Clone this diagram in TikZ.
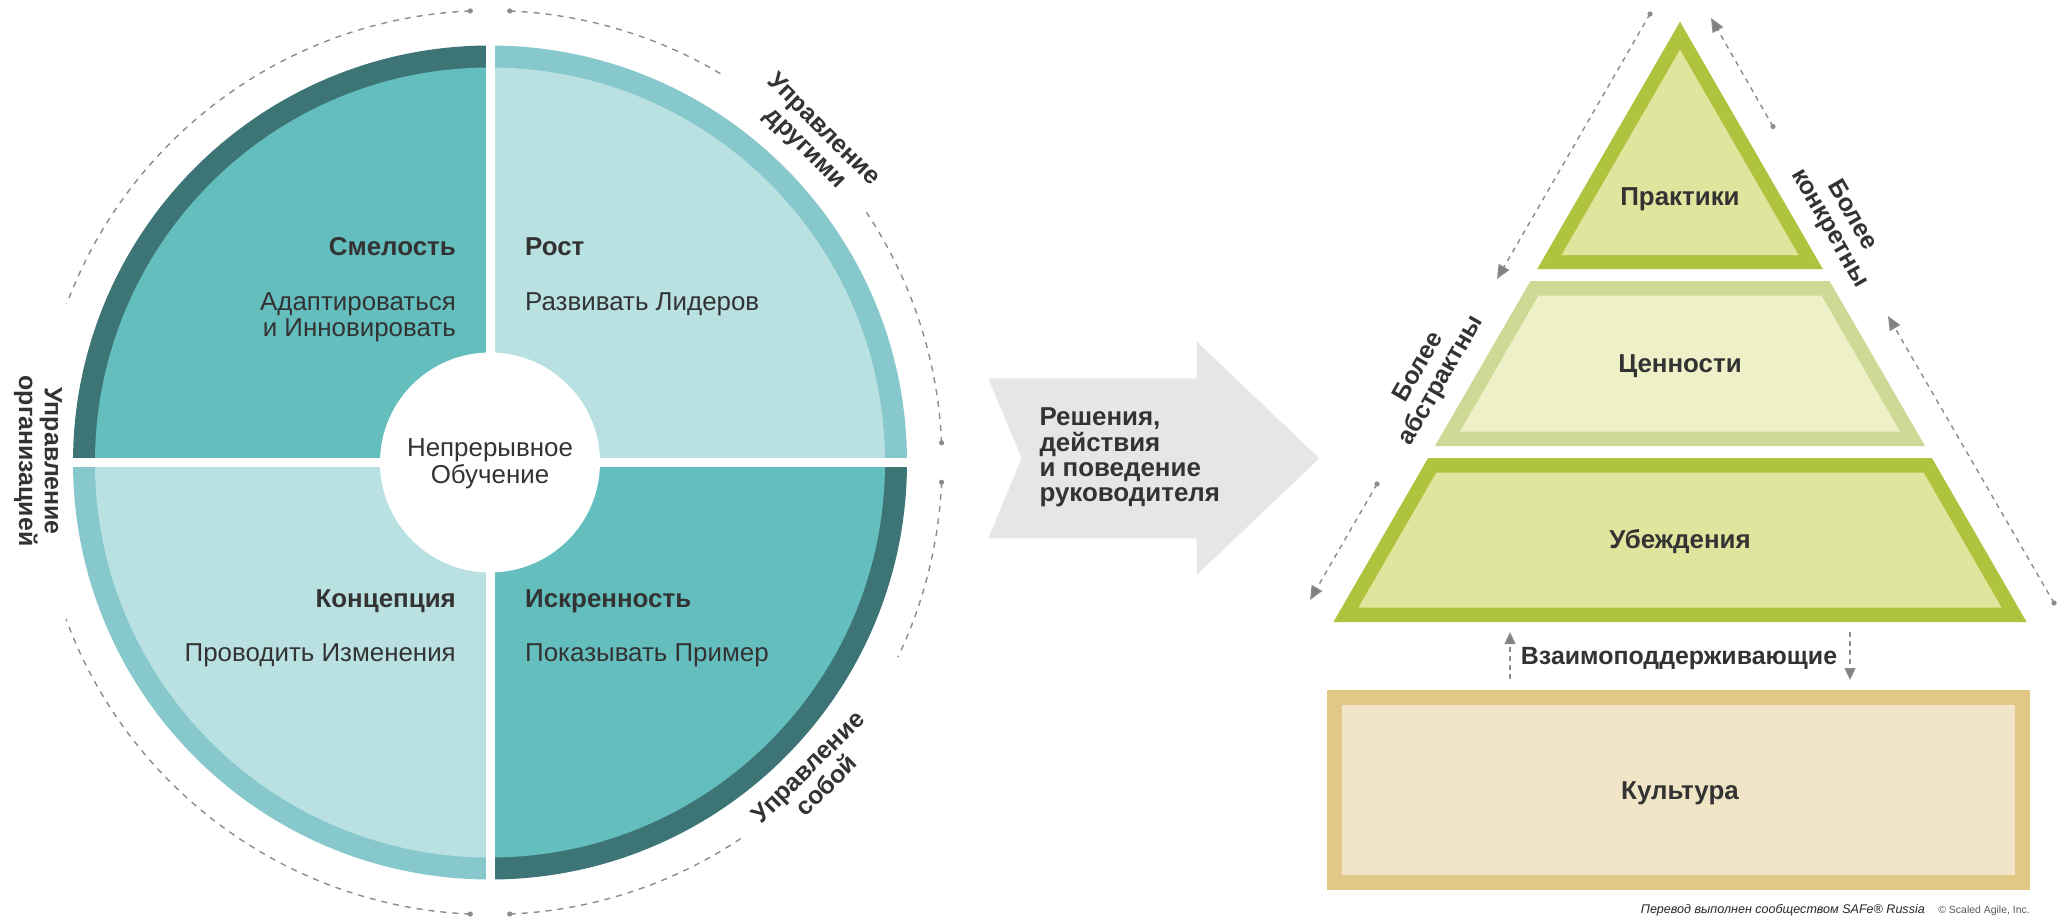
\documentclass[tikz,border=0pt]{standalone}
\usepackage{fontspec}
\setmainfont{Liberation Sans}
\usetikzlibrary{arrows.meta}
\definecolor{tdark}{HTML}{3D7577}
\definecolor{tmid}{HTML}{64BEBE}
\definecolor{tlight}{HTML}{B9E1E2}
\definecolor{tlband}{HTML}{86C8CC}
\definecolor{gborder}{HTML}{AFC33F}
\definecolor{gfill}{HTML}{E0E59E}
\definecolor{mborder}{HTML}{CED996}
\definecolor{mfill}{HTML}{EEF1C8}
\definecolor{cborder}{HTML}{E2C886}
\definecolor{cfill}{HTML}{F0E6C7}
\definecolor{arrowgray}{HTML}{E6E6E6}
\definecolor{dashgray}{HTML}{8C8C8C}
\definecolor{headgray}{HTML}{808080}
\definecolor{txt}{HTML}{333333}
\begin{document}
\begin{tikzpicture}[x=1bp,y=-1bp,
  qtitle/.style={font=\fontsize{26}{30}\selectfont\bfseries, text=txt, inner sep=0pt},
  qsub/.style={font=\fontsize{26}{30}\selectfont, text=txt, inner sep=0pt},
  outlbl/.style={font=\fontsize{25}{26}\selectfont\bfseries, text=txt, align=center, inner sep=0pt},
  pyrlbl/.style={font=\fontsize{26}{30}\selectfont\bfseries, text=txt, inner sep=0pt},
  dasharc/.style={draw=dashgray, line width=1.4bp, dash pattern=on 6bp off 6bp},
  enddot/.style={fill=dashgray},
  sidearrow/.style={draw=dashgray, line width=1.4bp, dash pattern=on 5bp off 5bp,
     -{Triangle[length=14bp,width=12bp,fill=headgray]}},
  smallarrow/.style={draw=dashgray, line width=1.4bp, dash pattern=on 5bp off 4bp,
     -{Triangle[length=12bp,width=11bp,fill=headgray]}}
]
\useasboundingbox (0,0) rectangle (2065,919);
\fill[white] (0,0) rectangle (2065,919);

% ---------------- circle ----------------
\coordinate (C) at (490,462.5);
% top-left
\fill[tdark] (C) -- ++(-90:417) arc[start angle=-90,end angle=-180,radius=417] -- cycle;
\fill[tmid]  (C) -- ++(-90:395) arc[start angle=-90,end angle=-180,radius=395] -- cycle;
% top-right
\fill[tlband] (C) -- ++(0:417) arc[start angle=0,end angle=-90,radius=417] -- cycle;
\fill[tlight] (C) -- ++(0:395) arc[start angle=0,end angle=-90,radius=395] -- cycle;
% bottom-left
\fill[tlband] (C) -- ++(90:417) arc[start angle=90,end angle=180,radius=417] -- cycle;
\fill[tlight] (C) -- ++(90:395) arc[start angle=90,end angle=180,radius=395] -- cycle;
% bottom-right
\fill[tdark] (C) -- ++(0:417) arc[start angle=0,end angle=90,radius=417] -- cycle;
\fill[tmid]  (C) -- ++(0:395) arc[start angle=0,end angle=90,radius=395] -- cycle;
% white cross and centre
\fill[white] (485.5,44) rectangle (494.5,881);
\fill[white] (71,458) rectangle (909,467);
\fill[white] (C) circle[radius=110];

% quadrant texts
\node[qtitle, anchor=base east] (smel) at (456,255) {Смелость};
\node[qsub, anchor=base east] (adap1) at (456,310) {Адаптироваться};
\node[qsub, anchor=base east] (adap2) at (456,336) {и Инновировать};
\node[qtitle, anchor=base west] (rost) at (525,255) {Рост};
\node[qsub, anchor=base west] (razv) at (525,310) {Развивать Лидеров};
\node[qtitle, anchor=base east] (konc) at (456,607) {Концепция};
\node[qsub, anchor=base east] (prov) at (456,661) {Проводить Изменения};
\node[qtitle, anchor=base west] (iskr) at (525,607) {Искренность};
\node[qsub, anchor=base west] (pokaz) at (525,661) {Показывать Пример};
\node[qsub, anchor=base] (nepr) at (490,456) {Непрерывное};
\node[qsub, anchor=base] (obuch) at (490,483.3) {Обучение};

% dashed arcs around circle
\draw[dasharc] (C) ++(-92.5:452) arc[start angle=-92.5,end angle=-159.5,radius=452];
\draw[dasharc] (C) ++(-267.5:452) arc[start angle=-267.5,end angle=-200.3,radius=452];
\draw[dasharc] (C) ++(-87.5:452) arc[start angle=-87.5,end angle=-59.2,radius=452];
\draw[dasharc] (C) ++(-2.5:452) arc[start angle=-2.5,end angle=-33.6,radius=452];
\draw[dasharc] (C) ++(2.5:452) arc[start angle=2.5,end angle=25.5,radius=452];
\draw[dasharc] (C) ++(87.5:452) arc[start angle=87.5,end angle=56.2,radius=452];
\foreach \a in {-92.5,-267.5,-87.5,-2.5,2.5,87.5}
  \fill[enddot] (C) ++(\a:452) circle[radius=2.6];

% outer labels
\node[outlbl, rotate=-90] (lblorg) at (38,461) {Управление\\организацией};
\node[outlbl, rotate=-45] (lbloth) at (814,139.5) {Управление\\другими};
\node[outlbl, rotate=45] (lblself) at (817,776) {Управление\\собой};

% ---------------- big arrow ----------------
\fill[arrowgray] (988.3,378.3) -- (1196.7,378.3) -- (1196.7,341.7) -- (1319.3,458.3)
  -- (1196.7,575) -- (1196.7,538.3) -- (988.3,538.3) -- (1021.7,458.3) -- cycle;
\node[font=\fontsize{26}{25.3}\selectfont\bfseries, text=txt, align=left, inner sep=0pt,
  anchor=west] (reshen) at (1039.3,457.5) {Решения,\\действия\\и поведение\\руководителя};

% ---------------- pyramid ----------------
% top triangle
\fill[gborder] (1680,21.7) -- (1822.8,269) -- (1537.2,269) -- cycle;
\fill[gfill] (1680,49.7) -- (1798.5,255) -- (1561.5,255) -- cycle;
% middle trapezoid
\fill[mborder] (1530.4,281) -- (1829.6,281) -- (1925,446) -- (1435,446) -- cycle;
\fill[mfill] (1538.6,295.5) -- (1821.4,295.5) -- (1899.9,431.5) -- (1460.1,431.5) -- cycle;
% bottom trapezoid
\fill[gborder] (1428.1,458) -- (1931.9,458) -- (2026.6,622) -- (1333.4,622) -- cycle;
\fill[gfill] (1436.4,472.5) -- (1923.6,472.5) -- (2001.5,607.5) -- (1358.5,607.5) -- cycle;
% culture box
\fill[cborder] (1327,690) rectangle (2030,890);
\fill[cfill] (1342,705) rectangle (2015,875);

\node[pyrlbl, anchor=base] (prakt) at (1680,205.6) {Практики};
\node[pyrlbl, anchor=base] (tsenn) at (1680,372.9) {Ценности};
\node[pyrlbl, anchor=base] (ubezh) at (1680,548.8) {Убеждения};
\node[pyrlbl, anchor=base] (kult) at (1680,799) {Культура};
\node[font=\fontsize{25}{30}\selectfont\bfseries, text=txt, inner sep=0pt, anchor=base]
  (vzaim) at (1679,664.3) {Взаимоподдерживающие};

% side dashed arrows
\coordinate (la1) at (1650,14);
\coordinate (la2) at (1497,279);
\coordinate (la3) at (1377,484);
\coordinate (la4) at (1310,600);
\coordinate (ra1) at (1773,126.5);
\coordinate (ra2) at (1711,18);
\coordinate (ra3) at (2054,603);
\coordinate (ra4) at (1888,316);
\draw[sidearrow] (la1) -- (la2);
\draw[sidearrow] (la3) -- (la4);
\draw[sidearrow] (ra1) -- (ra2);
\draw[sidearrow] (ra3) -- (ra4);
\foreach \p in {la1,la3,ra1,ra3}
  \fill[enddot] (\p) circle[radius=2.6];

\coordinate (ua1) at (1510,679);
\coordinate (ua2) at (1510,632);
\coordinate (da1) at (1850,632);
\coordinate (da2) at (1850,680);
\draw[smallarrow] (ua1) -- (ua2);
\draw[smallarrow] (da1) -- (da2);

\node[outlbl, rotate=60] (abst) at (1430.5,374) {Более\\абстрактны};
\node[outlbl, rotate=-60] (konk) at (1840.5,222) {Более\\конкретны};

% footnote
\node[font=\fontsize{12.6}{15}\selectfont\itshape, text=black!85, inner sep=0pt, anchor=base east]
  (foot) at (1925,913) {Перевод выполнен сообществом SAFe® Russia};
\node[font=\fontsize{10.5}{13}\selectfont, text=black!65, inner sep=0pt, anchor=base east]
  (copyr) at (2030,913) {© Scaled Agile, Inc.};
\end{tikzpicture}
\end{document}
